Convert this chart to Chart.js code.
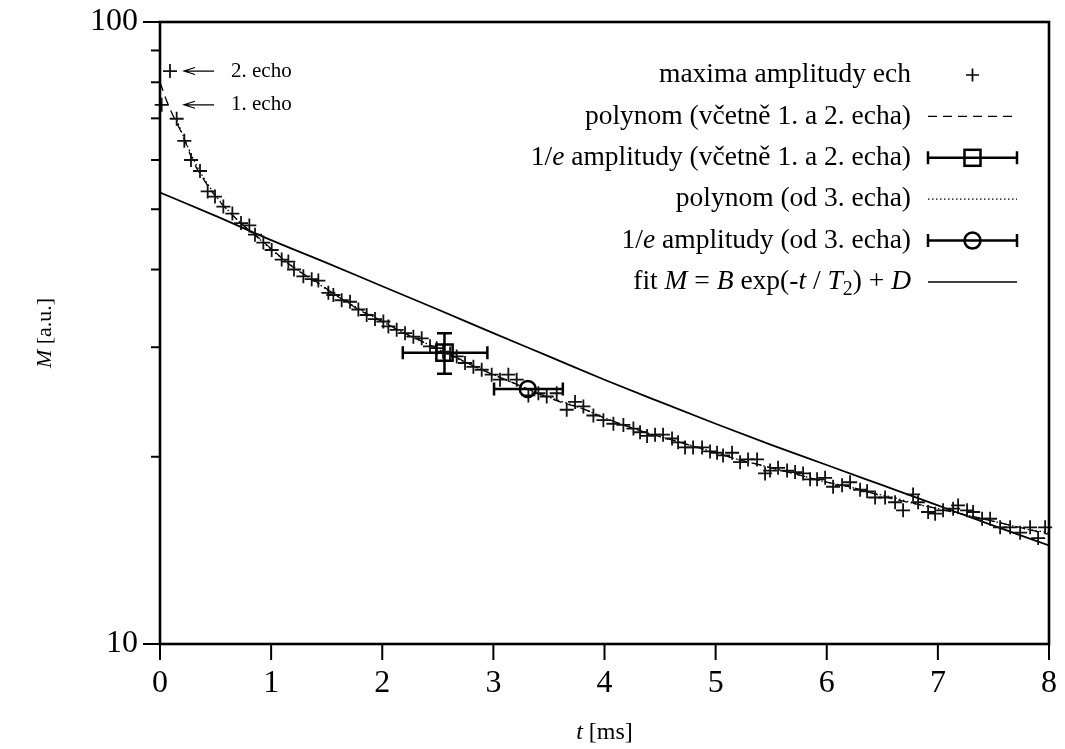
<!DOCTYPE html>
<html>
<head>
<meta charset="utf-8">
<script src="https://cdn.jsdelivr.net/npm/chart.js@4.4.1/dist/chart.umd.min.js"></script>
<style>
html,body{margin:0;padding:0;background:#fff;}
#wrap{width:1065px;height:749px;position:relative;}
</style>
</head>
<body>
<div id="wrap"><canvas id="c" width="1065" height="749"></canvas></div>
<script>
// ---- data ----
const tData = [0.015,0.09,0.150,0.219,0.279,0.360,0.429,0.495,0.570,0.651,
0.729,0.804,0.855,0.930,1.005,1.095,1.155,1.206,1.290,1.365,
1.425,1.515,1.560,1.635,1.710,1.785,1.860,1.935,2.010,2.055,
2.130,2.205,2.280,2.355,2.430,2.490,2.547,2.610,2.670,2.745,
2.820,2.895,2.985,3.060,3.135,3.210,3.315,3.405,3.480,3.570,
3.660,3.735,3.810,3.900,3.990,4.080,4.170,4.260,4.320,4.383,
4.455,4.527,4.608,4.662,4.725,4.797,4.878,4.950,5.013,5.067,
5.148,5.220,5.292,5.373,5.445,5.490,5.562,5.643,5.715,5.787,
5.850,5.913,5.985,6.057,6.138,6.210,6.300,6.363,6.435,6.525,
6.615,6.687,6.777,6.822,6.912,6.975,7.047,7.137,7.182,7.263,
7.317,7.398,7.470,7.560,7.650,7.740,7.830,7.902,7.965];
const mData = [73.6,83.4,69.9,64.4,60.0,57.6,53.4,52.4,50.5,49.2,
47.5,47.1,45.5,44.2,43.0,41.5,41.2,40.0,39.0,38.6,
38.4,36.7,36.4,35.7,35.5,34.5,33.8,33.3,33.0,32.4,
32.0,31.6,31.2,31.0,30.1,29.9,29.5,29.3,29.0,28.3,
27.9,27.6,27.1,26.6,27.1,26.6,25.1,25.3,25.0,25.3,
23.8,24.5,24.1,23.3,22.9,22.6,22.5,22.2,21.9,21.6,
21.7,21.7,21.4,21.1,20.7,20.7,20.7,20.4,20.3,20.1,
20.3,19.6,19.8,19.8,18.8,19.0,19.2,19.0,18.9,18.8,
18.4,18.4,18.5,17.9,18.0,18.2,17.7,17.6,17.2,17.2,
16.9,16.4,17.4,16.9,16.3,16.2,16.4,16.5,16.7,16.4,
16.3,15.9,15.9,15.4,15.4,15.1,15.4,14.8,15.4];

const polyAllT = [0,0.05,0.1,0.15,0.2,0.3,0.4,0.5,0.6,0.7,0.8,0.9,1.0,1.2,1.4,1.6,1.8,2.0,2.2,2.4,2.6,2.8,3.0,3.2,3.4,3.6,3.8,4.0,4.2,4.4,4.6,4.8,5.0,5.2,5.4,5.6,5.8,6.0,6.2,6.4,6.6,6.8,7.0,7.2,7.4,7.6,7.8,8.0];
const polyAllM = [80.0,75.5,71.8,68.8,66.0,59.6,55.6,52.4,50.0,48.0,46.3,44.8,43.2,40.3,38.3,36.2,34.4,33.0,31.6,30.4,29.3,28.1,27.1,26.2,25.3,24.5,23.9,23.1,22.4,21.8,21.3,20.8,20.3,19.8,19.4,19.0,18.6,18.2,17.9,17.5,17.1,16.8,16.5,16.2,15.9,15.6,15.3,15.0];

const polyFrom3T = [0.15,0.2,0.3,0.4,0.5,0.6,0.7,0.8,0.9,1.0,1.2,1.4,1.6,1.8,2.0,2.2,2.4,2.6,2.8,3.0,3.2,3.4,3.6,3.8,4.0,4.2,4.4,4.6,4.8,5.0,5.2,5.4,5.6,5.8,6.0,6.2,6.4,6.6,6.8,7.0,7.2,7.4,7.6,7.8,8.0];
const polyFrom3M = [69.6,66.2,60.2,55.9,52.6,50.1,48.0,46.2,44.7,43.1,40.4,38.2,36.2,34.5,33.0,31.6,30.4,29.2,28.1,27.1,26.2,25.3,24.6,23.9,23.1,22.4,21.8,21.3,20.8,20.3,19.8,19.4,19.0,18.6,18.2,17.9,17.5,17.2,16.8,16.5,16.2,15.9,15.6,15.3,15.1];

const fitT = [0,0.5,1,1.5,2,2.5,3,3.5,4,4.5,5,5.5,6,6.5,7,7.5,8];
const fitM = [53.2,48.8,44.6,41.0,37.6,34.5,31.6,29.0,26.6,24.5,22.6,20.9,19.4,18.0,16.7,15.5,14.4];

// 1/e amplitude (including echoes 1 and 2): centre, t range, M range
const sqT = [2.56], sqM = [29.4], sqTLo = [2.185], sqTHi = [2.946], sqMLo = [27.2], sqMHi = [31.6];
// 1/e amplitude (from echo 3)
const ciT = [3.31], ciM = [25.7], ciTLo = [3.006], ciTHi = [3.625];

const xTicks = [0,1,2,3,4,5,6,7,8];
const yTicks = [10,20,30,40,50,60,70,80,90,100];
const yLabelled = [10,100];

const legendItems = [
  {kind:'plus', segs:[{t:'maxima amplitudy ech'}]},
  {kind:'dash', segs:[{t:'polynom (včetně 1. a 2. echa)'}]},
  {kind:'errsq', segs:[{t:'1/'},{t:'e',i:true},{t:' amplitudy (včetně 1. a 2. echa)'}]},
  {kind:'dot', segs:[{t:'polynom (od 3. echa)'}]},
  {kind:'errci', segs:[{t:'1/'},{t:'e',i:true},{t:' amplitudy (od 3. echa)'}]},
  {kind:'solid', segs:[{t:'fit '},{t:'M',i:true},{t:' = '},{t:'B',i:true},{t:' exp(-'},{t:'t',i:true},{t:' / '},{t:'T',i:true},{t:'2',sub:true},{t:') + '},{t:'D',i:true}]}
];

// ---- helpers ----
const FONT = '"Liberation Serif", "DejaVu Serif", serif';
const FS_LEG = 27.5, FS_TICK = 32, FS_XTITLE = 24, FS_YTITLE = 22, FS_ECHO = 21;
const INK = '#000';
function fontOf(seg, size){ return (seg.i?'italic ':'') + (seg.sub? Math.round(size*0.72): size) + 'px ' + FONT; }
function richWidth(ctx, segs, size){ let w=0; for(const s of segs){ ctx.font=fontOf(s,size); w+=ctx.measureText(s.t).width; } return w; }
function drawRich(ctx, segs, x, y, align, size){
  const w = richWidth(ctx, segs, size);
  let cx = align==='right'? x-w : align==='center'? x-w/2 : x;
  ctx.textBaseline='middle'; ctx.textAlign='left'; ctx.fillStyle=INK;
  for(const s of segs){ ctx.font=fontOf(s,size); ctx.fillText(s.t, cx, y + (s.sub? size*0.28:0)); cx += ctx.measureText(s.t).width; }
}
function cross(ctx, x, y, r){ ctx.beginPath(); ctx.moveTo(x-r,y); ctx.lineTo(x+r,y); ctx.moveTo(x,y-r); ctx.lineTo(x,y+r); ctx.stroke(); }
function hbar(ctx, x1, x2, y, cap){ ctx.beginPath(); ctx.moveTo(x1,y); ctx.lineTo(x2,y); ctx.moveTo(x1,y-cap); ctx.lineTo(x1,y+cap); ctx.moveTo(x2,y-cap); ctx.lineTo(x2,y+cap); ctx.stroke(); }
function vbar(ctx, x, y1, y2, cap){ ctx.beginPath(); ctx.moveTo(x,y1); ctx.lineTo(x,y2); ctx.moveTo(x-cap,y1); ctx.lineTo(x+cap,y1); ctx.moveTo(x-cap,y2); ctx.lineTo(x+cap,y2); ctx.stroke(); }

const decor = {
  id:'decor',
  beforeDatasetsDraw(chart){
    const ctx=chart.ctx, xs=chart.scales.x, ys=chart.scales.y;
    ctx.save(); ctx.strokeStyle=INK; ctx.lineWidth=2.5; ctx.setLineDash([]);
    for(let k=0;k<sqT.length;k++){
      const y=ys.getPixelForValue(sqM[k]);
      hbar(ctx, xs.getPixelForValue(sqTLo[k]), xs.getPixelForValue(sqTHi[k]), y, 6.5);
      vbar(ctx, xs.getPixelForValue(sqT[k]), ys.getPixelForValue(sqMHi[k]), ys.getPixelForValue(sqMLo[k]), 7.5);
    }
    for(let k=0;k<ciT.length;k++){
      const y=ys.getPixelForValue(ciM[k]);
      hbar(ctx, xs.getPixelForValue(ciTLo[k]), xs.getPixelForValue(ciTHi[k]), y, 6.5);
    }
    ctx.restore();
  },
  afterDraw(chart){
    const ctx=chart.ctx, a=chart.chartArea, xs=chart.scales.x, ys=chart.scales.y;
    ctx.save();
    ctx.strokeStyle=INK; ctx.setLineDash([]);
    // ticks
    ctx.lineWidth=2;
    for(const v of yTicks){
      const y=ys.getPixelForValue(v); const len = yLabelled.includes(v)?17:9;
      ctx.beginPath(); ctx.moveTo(a.left-len,y); ctx.lineTo(a.left,y); ctx.stroke();
    }
    for(const v of xTicks){
      const x=xs.getPixelForValue(v);
      ctx.beginPath(); ctx.moveTo(x,a.bottom); ctx.lineTo(x,a.bottom+16); ctx.stroke();
    }
    // tick labels
    ctx.fillStyle=INK; ctx.font=FS_TICK+'px '+FONT; ctx.textBaseline='middle';
    ctx.textAlign='right';
    for(const v of yLabelled){ ctx.fillText(String(v), a.left-22, ys.getPixelForValue(v)); }
    ctx.textAlign='center';
    for(const v of xTicks){ ctx.fillText(String(v), xs.getPixelForValue(v), a.bottom+40); }
    // frame
    ctx.lineWidth=2.6;
    ctx.strokeRect(a.left,a.top,a.right-a.left,a.bottom-a.top);
    // axis titles
    drawRich(ctx,[{t:'t',i:true},{t:' [ms]'}], (a.left+a.right)/2, 733, 'center', FS_XTITLE);
    ctx.save(); ctx.translate(45,(a.top+a.bottom)/2); ctx.rotate(-Math.PI/2);
    drawRich(ctx,[{t:'M',i:true},{t:' [a.u.]'}], 0, 0, 'center', FS_YTITLE);
    ctx.restore();
    // echo annotations
    const echoes=[{idx:1,label:'2. echo'},{idx:0,label:'1. echo'}];
    ctx.lineWidth=1.2;
    for(const e of echoes){
      const y=ys.getPixelForValue(mData[e.idx]);
      const tip=a.left+24, tail=a.left+54;
      ctx.beginPath(); ctx.moveTo(tail,y); ctx.lineTo(tip,y);
      ctx.moveTo(tip+11,y-3.5); ctx.lineTo(tip,y); ctx.lineTo(tip+11,y+3.5); ctx.stroke();
      drawRich(ctx,[{t:e.label}], a.left+71, y, 'left', FS_ECHO);
    }
    // legend
    const textR=911, s1=928, s2=1017, sc=972.5;
    legendItems.forEach((it,k)=>{
      const y=75+k*41.4;
      drawRich(ctx,it.segs,textR,y,'right',FS_LEG);
      ctx.save(); ctx.strokeStyle=INK;
      if(it.kind==='plus'){ ctx.lineWidth=1.7; cross(ctx,sc,y,6.5); }
      else if(it.kind==='dash'){ ctx.lineWidth=1.3; ctx.setLineDash([9,6]); ctx.beginPath(); ctx.moveTo(s1,y); ctx.lineTo(s2,y); ctx.stroke(); }
      else if(it.kind==='dot'){ ctx.lineWidth=1.3; ctx.setLineDash([1.5,2.5]); ctx.beginPath(); ctx.moveTo(s1,y); ctx.lineTo(s2,y); ctx.stroke(); }
      else if(it.kind==='solid'){ ctx.lineWidth=1.5; ctx.beginPath(); ctx.moveTo(s1,y); ctx.lineTo(s2,y); ctx.stroke(); }
      else if(it.kind==='errsq'){ ctx.lineWidth=2.5; hbar(ctx,s1,s2,y,6.5); ctx.strokeRect(sc-8,y-8,16,16); }
      else if(it.kind==='errci'){ ctx.lineWidth=2.5; hbar(ctx,s1,s2,y,6.5); ctx.beginPath(); ctx.arc(sc,y,8,0,Math.PI*2); ctx.stroke(); }
      ctx.restore();
    });
    ctx.restore();
  }
};

const toXY=(ts,ms)=>ts.map((t,i)=>({x:t,y:ms[i]}));

new Chart(document.getElementById('c'),{
  type:'scatter',
  data:{datasets:[
    {label:'maxima amplitudy ech', data:toXY(tData,mData), pointStyle:'cross', pointRadius:7, pointBorderWidth:1.8, borderColor:'#111', backgroundColor:'#111', showLine:false, clip:false, order:1},
    {label:'polynom (včetně 1. a 2. echa)', data:toXY(polyAllT,polyAllM), showLine:true, borderColor:INK, borderWidth:1.3, borderDash:[9,6], pointRadius:0, cubicInterpolationMode:'monotone', order:2},
    {label:'polynom (od 3. echa)', data:toXY(polyFrom3T,polyFrom3M), showLine:true, borderColor:INK, borderWidth:1.3, borderDash:[1.5,2.5], pointRadius:0, cubicInterpolationMode:'monotone', order:3},
    {label:'fit', data:toXY(fitT,fitM), showLine:true, borderColor:INK, borderWidth:1.8, pointRadius:0, cubicInterpolationMode:'monotone', order:4},
    {label:'1/e (včetně)', data:toXY(sqT,sqM), pointStyle:'rect', pointRadius:11.5, pointBorderWidth:2.5, borderColor:INK, backgroundColor:'rgba(0,0,0,0)', showLine:false, order:0},
    {label:'1/e (od 3.)', data:toXY(ciT,ciM), pointStyle:'circle', pointRadius:8, pointBorderWidth:2.5, borderColor:INK, backgroundColor:'rgba(0,0,0,0)', showLine:false, order:0}
  ]},
  options:{
    responsive:false, animation:false, devicePixelRatio:1,
    layout:{padding:{left:0,top:22,right:16,bottom:0}},
    plugins:{legend:{display:false}, tooltip:{enabled:false}},
    scales:{
      x:{type:'linear', min:0, max:8, border:{display:false}, grid:{display:false, drawTicks:false},
         afterBuildTicks:(s)=>{ s.ticks = xTicks.map(v=>({value:v})); },
         afterFit:(s)=>{ s.height=105; },
         ticks:{display:false}},
      y:{type:'logarithmic', min:10, max:100, border:{display:false}, grid:{display:false, drawTicks:false},
         afterBuildTicks:(s)=>{ s.ticks = yTicks.map(v=>({value:v})); },
         afterFit:(s)=>{ s.width=160; },
         ticks:{display:false}}
    }
  },
  plugins:[decor]
});
</script>
</body>
</html>
